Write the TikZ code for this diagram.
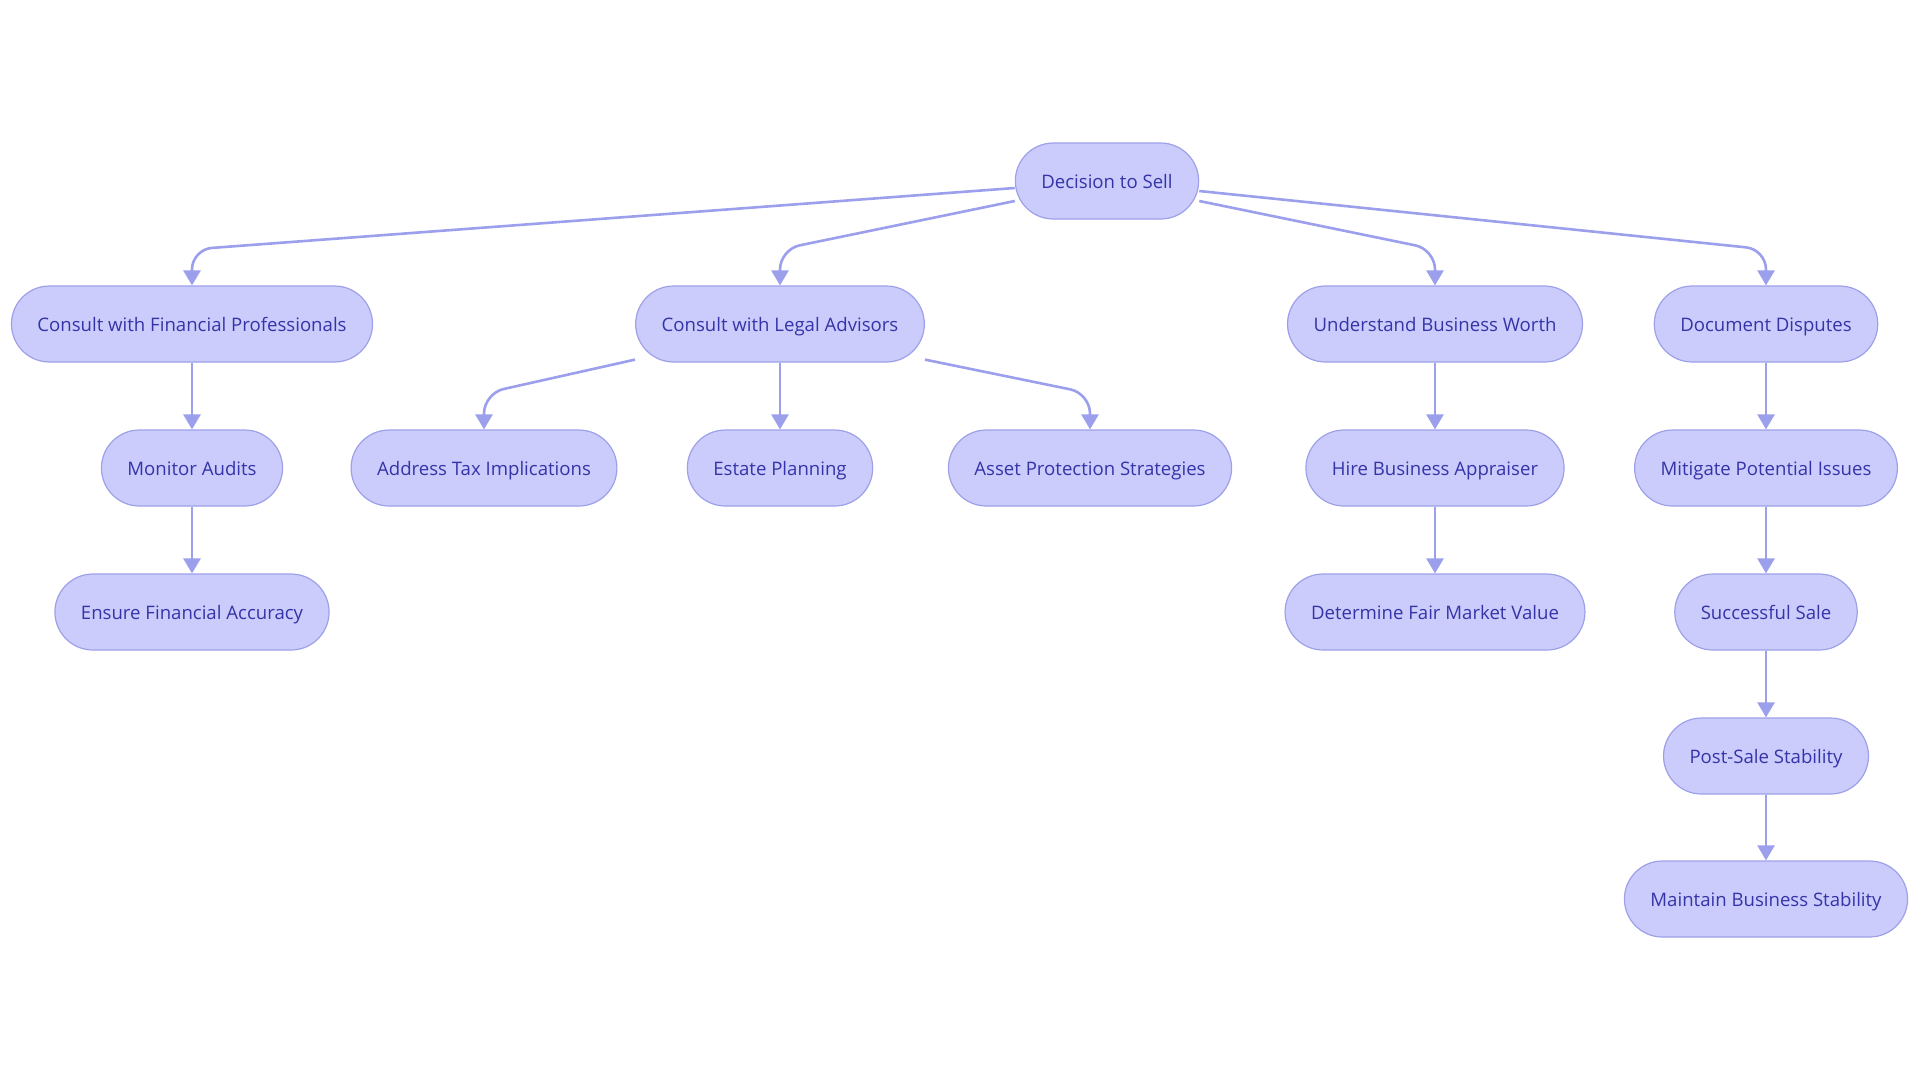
\documentclass[tikz,border=0pt]{standalone}
\usepackage{fontspec}
\setmainfont{Open Sans}
\usetikzlibrary{arrows.meta}

\definecolor{boxfill}{RGB}{203,204,252}
\definecolor{boxline}{RGB}{158,160,232}
\definecolor{boxtext}{RGB}{52,52,168}
\definecolor{linkcol}{RGB}{155,159,236}

\begin{document}
\begin{tikzpicture}[x=1pt,y=-1pt,
    link/.style={draw=linkcol,line width=2.6pt,rounded corners=20pt,
      -{Triangle[width=17pt,length=15pt]}}]

      \useasboundingbox (0,0) rectangle (1920,1080);

      \begin{scope}[every node/.style={rectangle,rounded corners=38pt,draw=boxline,
          fill=boxfill,line width=1.2pt,minimum height=76pt,inner xsep=26pt,
          text height=15.5pt,text depth=0pt,
          text=boxtext,font=\fontsize{18.6}{20}\selectfont}]
        \node (sell) at (1107,181) {Decision to Sell};

        \node (fin) at (192,324) {Consult with Financial Professionals};
        \node (legal) at (780,324) {Consult with Legal Advisors};
        \node (worth) at (1435,324) {Understand Business Worth};
        \node (disp) at (1766,324) {Document Disputes};

        \node (audit) at (192,468) {Monitor Audits};
        \node (tax) at (484,468) {Address Tax Implications};
        \node (estate) at (780,468) {Estate Planning};
        \node (asset) at (1090,468) {Asset Protection Strategies};
        \node (appr) at (1435,468) {Hire Business Appraiser};
        \node (mitig) at (1766,468) {Mitigate Potential Issues};

        \node (accur) at (192,612) {Ensure Financial Accuracy};
        \node (fmv) at (1435,612) {Determine Fair Market Value};
        \node (sale) at (1766,612) {Successful Sale};

        \node (post) at (1766,756) {Post-Sale Stability};
        \node (maint) at (1766,899) {Maintain Business Stability};
      \end{scope}

      % from the decision
      \draw[link] ([yshift=-7pt]sell.west) -- ([yshift=36pt]fin.north) -- (fin.north);
      \draw[link] ([yshift=-20pt]sell.west) -- ([yshift=36pt]legal.north) -- (legal.north);
      \draw[link] ([yshift=-20pt]sell.east) -- ([yshift=36pt]worth.north) -- (worth.north);
      \draw[link] ([yshift=-10pt]sell.east) -- ([yshift=36pt]disp.north) -- (disp.north);

      % legal branch
      \draw[link] ([yshift=3pt]legal.south west) -- ([yshift=36pt]tax.north) -- (tax.north);
      \draw[link] (legal) -- (estate);
      \draw[link] ([yshift=3pt]legal.south east) -- ([yshift=36pt]asset.north) -- (asset.north);

      % straight chains
      \draw[link] (fin) -- (audit);
      \draw[link] (audit) -- (accur);
      \draw[link] (worth) -- (appr);
      \draw[link] (appr) -- (fmv);
      \draw[link] (disp) -- (mitig);
      \draw[link] (mitig) -- (sale);
      \draw[link] (sale) -- (post);
      \draw[link] (post) -- (maint);

    \end{tikzpicture}
\end{document}
